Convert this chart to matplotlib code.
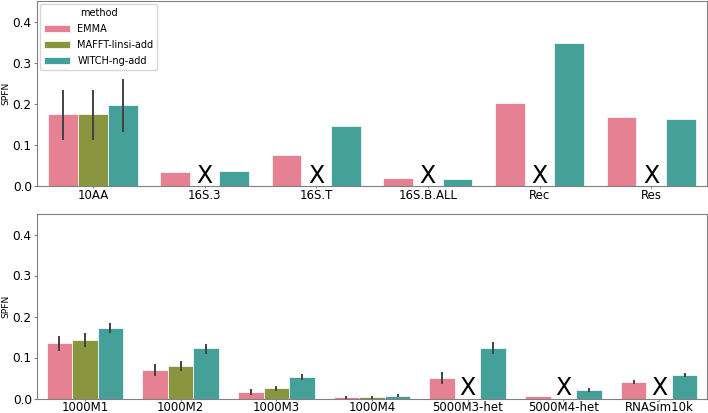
import numpy as np
import matplotlib
matplotlib.use("Agg")
import matplotlib.pyplot as plt

# data
methods = ["EMMA", "MAFFT-linsi-add", "WITCH-ng-add"]
colors = ["#e68193", "#8a963f", "#45a09a"]

top_cats = ["10AA", "16S.3", "16S.T", "16S.B.ALL", "Rec", "Res"]
top_emma = [0.174, 0.034, 0.075, 0.019, 0.203, 0.168]
top_mafft = [0.174, np.nan, np.nan, np.nan, np.nan, np.nan]
top_witch = [0.197, 0.037, 0.147, 0.016, 0.349, 0.162]
top_emma_ci = [(0.115, 0.232), None, None, None, None, None]
top_mafft_ci = [(0.115, 0.232), None, None, None, None, None]
top_witch_ci = [(0.133, 0.259), None, None, None, None, None]

bot_cats = ["1000M1", "1000M2", "1000M3", "1000M4", "5000M3-het", "5000M4-het", "RNASim10k"]
bot_emma = [0.135, 0.070, 0.016, 0.003, 0.050, 0.006, 0.040]
bot_mafft = [0.143, 0.080, 0.025, 0.003, np.nan, np.nan, np.nan]
bot_witch = [0.172, 0.122, 0.052, 0.007, 0.123, 0.021, 0.057]
bot_emma_ci = [(0.118, 0.151), (0.058, 0.081), (0.012, 0.020), (0.002, 0.004),
               (0.037, 0.062), (0.005, 0.007), (0.038, 0.042)]
bot_mafft_ci = [(0.127, 0.157), (0.069, 0.090), (0.021, 0.029), (0.002, 0.004),
                None, None, None]
bot_witch_ci = [(0.162, 0.182), (0.111, 0.131), (0.047, 0.057), (0.005, 0.009),
                (0.110, 0.135), (0.018, 0.024), (0.054, 0.060)]


def draw_panel(ax, cats, vals, cis):
    n = len(cats)
    x = np.arange(n)
    w = 0.8 / 3
    for k in range(3):
        pos = x + (k - 1) * w
        ax.bar(pos, vals[k], width=w, color=colors[k], edgecolor="white",
               linewidth=0.5, label=methods[k])
        for i in range(n):
            if cis[k][i] is not None:
                lo, hi = cis[k][i]
                ax.plot([pos[i], pos[i]], [lo, hi], color="#424242", lw=1.4, zorder=3)
            if np.isnan(vals[k][i]):
                ax.text(pos[i], -0.004, "X", ha="center", va="bottom", fontsize=17)
    ax.set_xticks(x)
    ax.set_xticklabels(cats, fontsize=8.5)
    ax.set_xlim(-0.5, n - 0.5)
    ax.set_ylim(0, 0.45)
    ax.set_yticks([0.0, 0.1, 0.2, 0.3, 0.4])
    ax.tick_params(axis="both", labelsize=8.7, length=2.5, pad=1.2, color="#808080")
    ax.tick_params(axis="x", labelsize=8.5, length=1.5, pad=0.4)
    ax.set_ylabel("SPFN", fontsize=6.6, labelpad=2)
    for s in ax.spines.values():
        s.set_color("#808080")


fig = plt.figure(figsize=(7.08, 4.13), dpi=100)
ax1 = fig.add_axes([37 / 708, (413 - 186) / 413, 670 / 708, 185 / 413])
ax2 = fig.add_axes([37 / 708, (413 - 398.5) / 413, 670 / 708, 184.5 / 413])

draw_panel(ax1, top_cats, [top_emma, top_mafft, top_witch],
           [top_emma_ci, top_mafft_ci, top_witch_ci])
draw_panel(ax2, bot_cats, [bot_emma, bot_mafft, bot_witch],
           [bot_emma_ci, bot_mafft_ci, bot_witch_ci])

ax1.legend(title="method", loc="upper left", fontsize=7, title_fontsize=7,
           borderaxespad=0.35, handlelength=2.6, labelspacing=0.6)

fig.savefig("out.png", dpi=100)
